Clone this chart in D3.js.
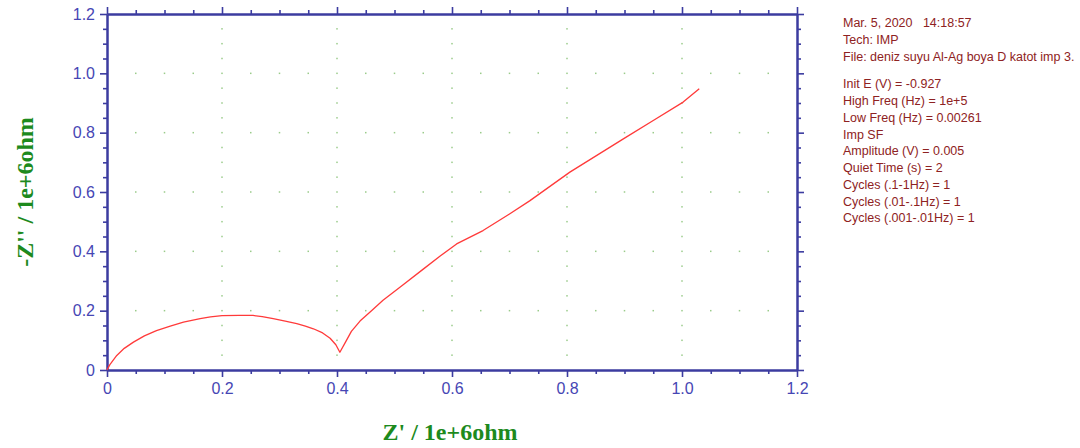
<!DOCTYPE html>
<html>
<head>
<meta charset="utf-8">
<script src="https://cdn.jsdelivr.net/npm/d3@7/dist/d3.min.js"></script>
<style>
  html, body { margin: 0; padding: 0; background: #fff; }
  svg { display: block; }
  .info text { white-space: pre; }
</style>
</head>
<body>
<svg id="chart" width="1080" height="448"></svg>
<script>
// Nyquist plot: Z' (real) vs -Z'' (imaginary), units of 1e+6 ohm
const zReal = [0, 0.005, 0.017, 0.03, 0.046, 0.065, 0.086, 0.11, 0.133, 0.162, 0.18, 0.2, 0.23, 0.254,
  0.27, 0.289, 0.31, 0.33, 0.345, 0.359, 0.375, 0.388, 0.398, 0.405,
  0.415, 0.425, 0.44, 0.46, 0.48, 0.51, 0.55, 0.58, 0.608, 0.654, 0.70, 0.735, 0.805, 0.898, 0.95, 1.002, 1.03];
const zImag = [0, 0.018, 0.049, 0.073, 0.094, 0.115, 0.133, 0.148, 0.161, 0.173, 0.179, 0.183, 0.184, 0.184,
  0.18, 0.173, 0.165, 0.156, 0.148, 0.139, 0.125, 0.107, 0.085, 0.06,
  0.095, 0.13, 0.165, 0.2, 0.235, 0.28, 0.34, 0.385, 0.425, 0.47, 0.526, 0.57, 0.667, 0.779, 0.841, 0.903, 0.948];

const xTicks = [0, 0.2, 0.4, 0.6, 0.8, 1.0, 1.2];
const xTickLabels = ["0", "0.2", "0.4", "0.6", "0.8", "1.0", "1.2"];
const yTicks = [0, 0.2, 0.4, 0.6, 0.8, 1.0, 1.2];
const yTickLabels = ["0", "0.2", "0.4", "0.6", "0.8", "1.0", "1.2"];
const minorStep = 0.05;

const infoLines = [
  "Mar. 5, 2020   14:18:57",
  "Tech: IMP",
  "File: deniz suyu Al-Ag boya D katot imp 3.",
  "",
  "Init E (V) = -0.927",
  "High Freq (Hz) = 1e+5",
  "Low Freq (Hz) = 0.00261",
  "Imp SF",
  "Amplitude (V) = 0.005",
  "Quiet Time (s) = 2",
  "Cycles (.1-1Hz) = 1",
  "Cycles (.01-.1Hz) = 1",
  "Cycles (.001-.01Hz) = 1"
];

const axisColor = "#3c3ca0";
const labelColor = "#4646b4";
const titleColor = "#1d8a1d";
const infoColor = "#8e2222";

const svg = d3.select("#chart");
svg.append("rect").attr("width", 1080).attr("height", 448).attr("fill", "#fff");

const plotLeft = 107, plotRight = 797, plotTop = 14, plotBottom = 370;
const x = d3.scaleLinear().domain([0, 1.2]).range([plotLeft, plotRight]);
const y = d3.scaleLinear().domain([0, 1.2]).range([plotBottom, plotTop]);

const minors = d3.range(0, 1.2 + 1e-9, minorStep).map(v => +v.toFixed(3));

// dotted grid: dots along each interior major line at every minor step
const grid = svg.append("g").attr("fill", "#9acb8a");
xTicks.slice(1, -1).forEach(xv => {
  minors.slice(1, -1).forEach(yv => {
    grid.append("rect").attr("x", x(xv) - 0.75).attr("y", y(yv) - 0.75).attr("width", 1.5).attr("height", 1.5);
  });
});
yTicks.slice(1, -1).forEach(yv => {
  minors.slice(1, -1).forEach(xv => {
    if (xTicks.some(t => Math.abs(t - xv) < 1e-9)) return;
    grid.append("rect").attr("x", x(xv) - 0.75).attr("y", y(yv) - 0.75).attr("width", 1.5).attr("height", 1.5);
  });
});

// axes on all four sides, ticks pointing outward
function styleAxis(g) {
  g.select(".domain").attr("stroke", axisColor).attr("stroke-width", 2);
  g.selectAll(".tick line").attr("stroke", axisColor).attr("stroke-width", 1.6);
  g.selectAll(".tick text").attr("fill", labelColor)
    .style("font-family", "Arial, 'Liberation Sans', sans-serif").style("font-size", "16px");
}

const isMajor = v => xTicks.some(t => Math.abs(t - v) < 1e-9);
const minorOnly = minors.filter(v => !isMajor(v));

// minor ticks
svg.append("g").attr("transform", `translate(0,${plotBottom})`)
  .call(d3.axisBottom(x).tickValues(minorOnly).tickSize(4).tickSizeOuter(0).tickFormat(""))
  .call(styleAxis);
svg.append("g").attr("transform", `translate(0,${plotTop})`)
  .call(d3.axisTop(x).tickValues(minorOnly).tickSize(4).tickSizeOuter(0).tickFormat(""))
  .call(styleAxis);
svg.append("g").attr("transform", `translate(${plotLeft},0)`)
  .call(d3.axisLeft(y).tickValues(minorOnly).tickSize(4).tickSizeOuter(0).tickFormat(""))
  .call(styleAxis);
svg.append("g").attr("transform", `translate(${plotRight},0)`)
  .call(d3.axisRight(y).tickValues(minorOnly).tickSize(4).tickSizeOuter(0).tickFormat(""))
  .call(styleAxis);

// major ticks with labels
svg.append("g").attr("transform", `translate(0,${plotBottom})`)
  .call(d3.axisBottom(x).tickValues(xTicks).tickSize(7).tickSizeOuter(0).tickPadding(6)
    .tickFormat((d, i) => xTickLabels[i]))
  .call(styleAxis);
svg.append("g").attr("transform", `translate(0,${plotTop})`)
  .call(d3.axisTop(x).tickValues(xTicks).tickSize(7).tickSizeOuter(0).tickFormat(""))
  .call(styleAxis);
svg.append("g").attr("transform", `translate(${plotLeft},0)`)
  .call(d3.axisLeft(y).tickValues(yTicks).tickSize(7).tickSizeOuter(0).tickPadding(5)
    .tickFormat((d, i) => yTickLabels[i]))
  .call(styleAxis);
svg.append("g").attr("transform", `translate(${plotRight},0)`)
  .call(d3.axisRight(y).tickValues(yTicks).tickSize(7).tickSizeOuter(0).tickFormat(""))
  .call(styleAxis);

// impedance curve
const pts = zReal.map((v, i) => [v, zImag[i]]);
svg.append("path")
  .datum(pts)
  .attr("fill", "none")
  .attr("stroke", "#ff3a3a")
  .attr("stroke-width", 1.3)
  .attr("stroke-linejoin", "round")
  .attr("d", d3.line().x(d => x(d[0])).y(d => y(d[1])).curve(d3.curveLinear));

// axis titles
svg.append("text")
  .attr("x", 450).attr("y", 440)
  .attr("text-anchor", "middle")
  .attr("fill", titleColor)
  .style("font-family", "'Liberation Serif', 'Times New Roman', serif")
  .style("font-weight", "bold").style("font-size", "24px")
  .text("Z' / 1e+6ohm");
svg.append("text")
  .attr("transform", "translate(33,192) rotate(-90)")
  .attr("text-anchor", "middle")
  .attr("fill", titleColor)
  .style("font-family", "'Liberation Serif', 'Times New Roman', serif")
  .style("font-weight", "bold").style("font-size", "24px")
  .text("-Z'' / 1e+6ohm");

// experiment info block
const info = svg.append("g")
  .attr("class", "info")
  .attr("fill", infoColor)
  .style("font-family", "Arial, 'Liberation Sans', sans-serif")
  .style("font-size", "12.5px");
let ty = 27;
infoLines.forEach(line => {
  if (line === "") { ty += 11; return; }
  info.append("text").attr("x", 843).attr("y", ty)
    .attr("xml:space", "preserve")
    .style("white-space", "pre")
    .text(line);
  ty += 16.75;
});
</script>
</body>
</html>
